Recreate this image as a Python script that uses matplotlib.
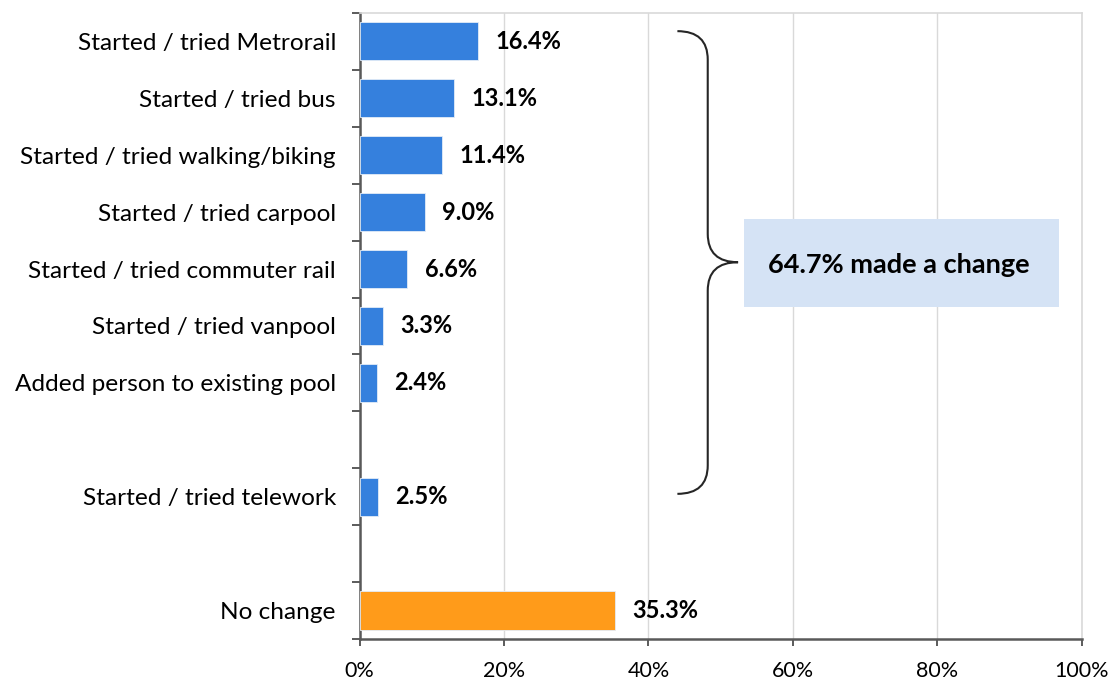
import matplotlib
matplotlib.use('Agg')
from matplotlib import pyplot as plt
from matplotlib.path import Path
from matplotlib.patches import PathPatch, Rectangle
import numpy as np

# chart data (slots from top to bottom, None = empty slot)
labels = ['Started / tried Metrorail', 'Started / tried bus',
          'Started / tried walking/biking', 'Started / tried carpool',
          'Started / tried commuter rail', 'Started / tried vanpool',
          'Added person to existing pool', '', 'Started / tried telework',
          '', 'No change']
values = [16.4, 13.1, 11.4, 9.0, 6.6, 3.3, 2.4, None, 2.5, None, 35.3]
groups = ['change'] * 7 + [None, 'change', None, 'none']
summary_text = '64.7% made a change'
xticks = [0, 20, 40, 60, 80, 100]

colors = {'change': '#3580DD', 'none': '#FF9B1A'}

plt.rcParams['font.family'] = ['Lato', 'DejaVu Sans']

fig = plt.figure(figsize=(11.12, 6.81), dpi=100)
ax = fig.add_axes([0.3233, 0.0617, 0.973 - 0.3233, 0.981 - 0.0617])

pos = np.arange(len(labels))
for p, v, g in zip(pos, values, groups):
    if v is None:
        continue
    ax.barh(p, v, height=0.67, color=colors[g], edgecolor='#E3ECF7',
            linewidth=0.6, zorder=3)
    ax.text(v + 2.4, p, '%.1f%%' % v, va='center', ha='left',
            fontsize=17, fontweight='bold', color='black', zorder=4)

ax.set_xlim(0, 100)
ax.set_ylim(len(labels) - 0.5, -0.5)

# category labels on major ticks, tick marks on slot boundaries
ax.set_yticks(pos)
ax.set_yticklabels(labels, fontsize=17.6)
ax.tick_params(axis='y', which='major', length=0, pad=17)
ax.set_yticks(np.arange(-0.5, len(labels)), minor=True)
ax.tick_params(axis='y', which='minor', length=6, width=1.2, color='#404040',
               direction='out')

ax.set_xticks(xticks)
ax.set_xticklabels(['%d%%' % t for t in xticks], fontsize=15.5)
ax.tick_params(axis='x', length=5, width=1.2, color='#404040', pad=11)

ax.grid(axis='x', color='#D9D9D9', linewidth=1, zorder=0)
for s in ['top', 'right']:
    ax.spines[s].set_color('#D9D9D9')
    ax.spines[s].set_linewidth(1.2)
for s in ['left', 'bottom']:
    ax.spines[s].set_color('#595959')
    ax.spines[s].set_linewidth(1.8)

# curly brace grouping the "change" rows
xl, xm, xt = 44.0, 48.2, 52.4
yt, ymid, yb = -0.18, 3.88, 7.95
r = 0.5
verts = [(xl, yt), (xm, yt), (xm, yt + r),
         (xm, ymid - r), (xm, ymid), (xt, ymid),
         (xm, ymid), (xm, ymid + r),
         (xm, yb - r), (xm, yb), (xl, yb)]
codes = [Path.MOVETO, Path.CURVE3, Path.CURVE3,
         Path.LINETO, Path.CURVE3, Path.CURVE3,
         Path.CURVE3, Path.CURVE3,
         Path.LINETO, Path.CURVE3, Path.CURVE3]
ax.add_patch(PathPatch(Path(verts, codes), facecolor='none',
                       edgecolor='#262626', linewidth=1.5, zorder=4))

# summary box
ax.add_patch(Rectangle((53.2, 3.12), 96.8 - 53.2, 4.67 - 3.12,
                       facecolor='#D5E3F5', edgecolor='none', zorder=4))
ax.text(74.6, 3.93, summary_text, ha='center', va='center', fontsize=19.5,
        fontweight='bold', color='black', zorder=5)

fig.savefig('out.png', dpi=100)
